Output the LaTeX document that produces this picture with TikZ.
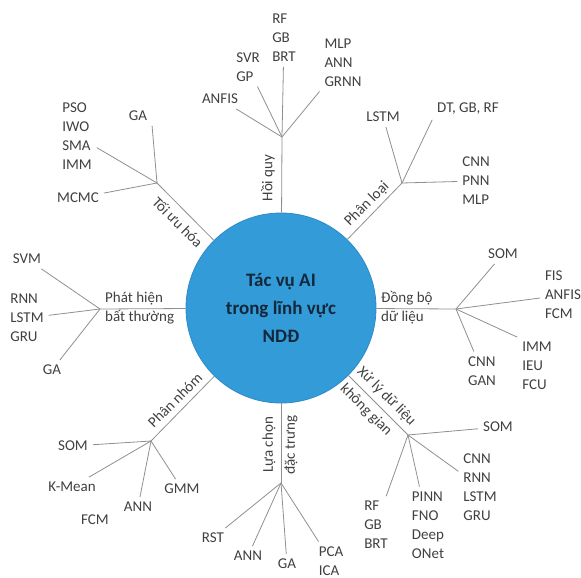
\documentclass[tikz,border=0pt]{standalone}
\usepackage{fontspec}
\setmainfont{Carlito}
\definecolor{discblue}{HTML}{339BD8}
\definecolor{discrim}{HTML}{2C8AC8}
\definecolor{disctext}{HTML}{14283C}
\definecolor{twiggray}{HTML}{8F8F8F}
\definecolor{inkgray}{HTML}{404040}
\tikzset{
  leaf/.style={text=inkgray, align=left, inner sep=3pt, outer sep=2pt,
    font=\fontsize{15}{19}\selectfont},
  trunk/.style={text=inkgray, inner sep=1pt, font=\fontsize{15}{19}\selectfont},
  twig/.style={draw=twiggray, line width=0.8pt},
}
\begin{document}
\begin{tikzpicture}[x=1pt,y=-1pt]
      \useasboundingbox (0,0) rectangle (581,578);
      \node[circle, fill=discblue, draw=discrim, line width=0.8pt, minimum size=190pt,
        inner sep=0pt, align=center, text=disctext,
        font=\fontsize{19}{28}\selectfont\bfseries] (core) at (281,308)
        {Tác vụ AI\\trong lĩnh vực\\NDĐ};
      \path
        (282,137) coordinate (hq)
        (402,183) coordinate (pl)
        (456,309) coordinate (db)
        (408,435) coordinate (xl)
        (281,483) coordinate (lc)
        (151,441) coordinate (pn)
        (100,309) coordinate (ph)
        (157,183) coordinate (tu);
      \path[every node/.style={trunk}]
        (268,178) node[rotate=90] (hqT){Hồi quy}
        (367,204) node[rotate=45] (plT){Phân loại}
        (380,308) node[anchor=west, align=left] (dbT){Đồng bộ\\dữ liệu}
        (378,405) node[rotate=-45, align=left] (xlT){Xử lý dữ liệu\\[5pt]không gian}
        (280,445) node[rotate=90, align=center] (lcT){Lựa chọn\\[3pt]đặc trưng}
        (175,400) node[rotate=45] (pnT){Phân nhóm}
        (104,308) node[anchor=west, align=left] (phT){Phát hiện\\bất thường}
        (178,222) node[rotate=-45] (tuT){Tối ưu hóa};
      \path[every node/.style={leaf}]
        (220,99) node (hqA){ANFIS}
        (248,67) node (hqB){SVR\\GP}
        (284,38) node (hqC){RF\\GB\\BRT}
        (343,63) node (hqD){MLP\\ANN\\GRNN}
        (383,117) node (plA){LSTM}
        (468,109) node (plB){DT, GB, RF}
        (476,181) node (plC){CNN\\PNN\\MLP}
        (503,254) node (dbA){SOM}
        (563,295) node (dbB){FIS\\ANFIS\\FCM}
        (537,366) node (dbC){IMM\\IEU\\FCU}
        (482,371) node (dbD){CNN\\GAN}
        (498,427) node (xlA){SOM}
        (480,487) node (xlB){CNN\\RNN\\LSTM\\GRU}
        (428,525) node (xlC){PINN\\FNO\\Deep\\ONet}
        (376,525) node (xlD){RF\\GB\\BRT}
        (213,538) node (lcA){RST}
        (248,556) node (lcB){ANN}
        (287,564) node (lcC){GA}
        (331,561) node (lcD){PCA\\ICA}
        (73,446) node (pnA){SOM}
        (72,487) node (pnB){K-Mean}
        (138,507) node (pnC){ANN}
        (182,489) node (pnD){GMM}
        (95,520) node (pnE){FCM}
        (27,259) node (phA){SVM}
        (27,318) node (phB){RNN\\LSTM\\GRU}
        (52,370) node (phC){GA}
        (138,116) node (tuA){GA}
        (77,136) node (tuB){PSO\\IWO\\SMA\\IMM}
        (78,198) node (tuC){MCMC};
      \begin{scope}[twig]
        \draw (core) to (hq);
        \draw (core) to (pl);
        \draw (core) to (db);
        \draw (core) to (xl);
        \draw (core) to (lc);
        \draw (core) to (pn);
        \draw (core) to (ph);
        \draw (core) to (tu);
        \draw (hq) to (hqA);
        \draw (hq) to (hqB);
        \draw (hq) to (hqC);
        \draw (hq) to (hqD);
        \draw (pl) to (plA);
        \draw (pl) to (plB.south west);
        \draw (pl) to (plC);
        \draw (db) to (dbA);
        \draw (db) to (dbB);
        \draw (db) to (dbC.north west);
        \draw (db) to (dbD);
        \draw (xl) to (xlA);
        \draw (xl) to (xlB);
        \draw (xl) to (xlC);
        \draw (xl) to (xlD);
        \draw (lc) to (lcA);
        \draw (lc) to (lcB);
        \draw (lc) to (lcC);
        \draw (lc) to (lcD);
        \draw (pn) to (pnA);
        \draw (pn) to (pnB);
        \draw (pn) to (pnC);
        \draw (pn) to (pnD);
        \draw (ph) to (phA);
        \draw (ph) to (phB);
        \draw (ph) to (phC);
        \draw (tu) to (tuA.south east);
        \draw (tu) to (tuB);
        \draw (tu) to (tuC);
      \end{scope}
    \end{tikzpicture}
\end{document}
